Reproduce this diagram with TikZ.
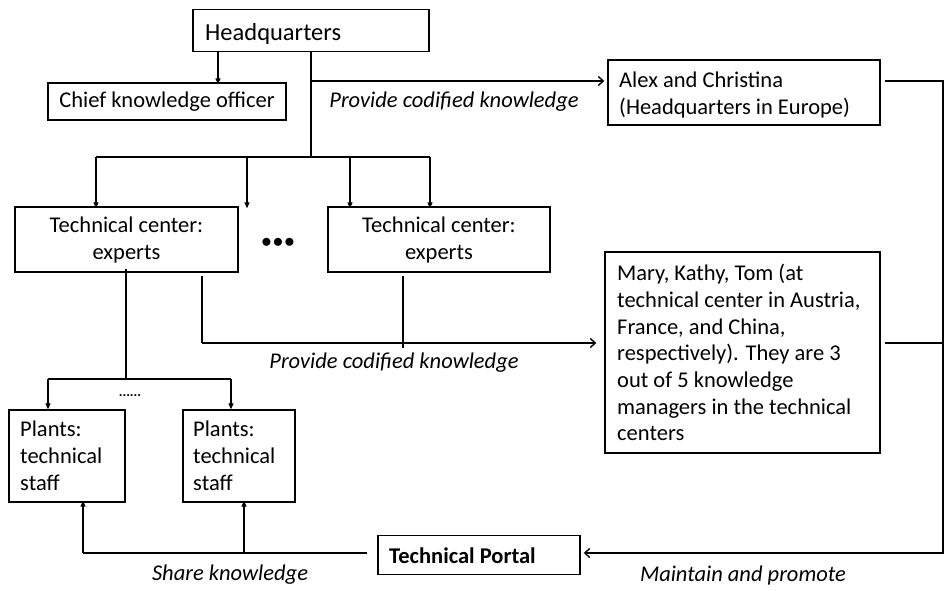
\documentclass[tikz,border=0pt]{standalone}
\usepackage{fontspec}
\setmainfont{Carlito}
\usetikzlibrary{arrows.meta,calc}
\begin{document}
\begin{tikzpicture}[x=1pt,y=-1pt,
  box/.style={draw, line width=1.4pt, rectangle, inner sep=0pt, font=\fontsize{22.5}{27}\selectfont},
  ctext/.style={box, align=center},
  txt/.style={inner sep=0pt, align=left, font=\fontsize{22.5}{26.7}\selectfont},
  lab/.style={font=\fontsize{22.5}{24}\selectfont\itshape, inner sep=0pt},
  ln/.style={line width=1.2pt},
  arr/.style={ln, -{Triangle[length=6pt,width=5pt]}},
  barb/.style={ln, -{Straight Barb[length=5pt,width=9pt,line width=1.4pt]}}
]
\useasboundingbox (0,0) rectangle (945,590);
\fill[white] (0,0) rectangle (945,590);

% boxes
\node[box, minimum width=236pt, minimum height=42pt] (HQ) at (311,30.5) {};
\node[anchor=base west, inner sep=0pt, font=\fontsize{24.5}{26}\selectfont] (HQt) at (205,40) {Headquarters};
\node[box, minimum width=238pt, minimum height=37pt] (CKO) at (167,101.5) {Chief knowledge officer};
\node[box, minimum width=272pt, minimum height=65pt] (AC) at (744,92.5) {};
\node[txt, anchor=north west] (ACt) at (619,72) {Alex and Christina\\(Headquarters in Europe)};
\node[ctext, minimum width=223pt, minimum height=65pt] (TC1) at (126.5,239.5) {Technical center:\\experts};
\node[ctext, minimum width=222pt, minimum height=65pt] (TC2) at (439,239.5) {Technical center:\\experts};
\node[font=\fontsize{20}{20}\selectfont\bfseries, inner sep=0pt] (dots) at (278,243) {$\bullet\!\bullet\!\bullet$};
\node[box, minimum width=275pt, minimum height=201pt] (MK) at (742.5,352.5) {};
\node[txt, anchor=north west] (MKt) at (617,264) {Mary, Kathy, Tom (at\\technical center in Austria,\\France, and China,\\respectively). They are 3\\out of 5 knowledge\\managers in the technical\\centers};
\node[box, minimum width=116pt, minimum height=92pt] (P1) at (67,456) {};
\node[txt, anchor=north west] (P1t) at (20,421) {Plants:\\technical\\staff};
\node[box, minimum width=112pt, minimum height=92pt] (P2) at (239,456) {};
\node[txt, anchor=north west] (P2t) at (193,421) {Plants:\\technical\\staff};
\node[box, minimum width=202pt, minimum height=39pt] (TP) at (479,555) {};
\node[anchor=west, inner sep=0pt, font=\fontsize{22.5}{24}\selectfont\bfseries] (TPt) at (389,556) {Technical Portal};
\node[font=\fontsize{14}{14}\selectfont\bfseries, inner sep=0pt] (pdots) at (130,396) {......};

% labels
\node[lab] (l1) at (454,102) {Provide codified knowledge};
\node[lab] (l2) at (394,363) {Provide codified knowledge};
\node[lab] (l3) at (230,575) {Share knowledge};
\node[lab] (l4) at (743,575) {Maintain and promote};

% coordinates
\coordinate (xa) at (218,0);
\coordinate (yb) at (0,81);
\coordinate (bus) at (311,157);
\coordinate (b1) at (96,157);
\coordinate (b2) at (247,157);
\coordinate (b3) at (350,157);
\coordinate (b4) at (430,157);
\coordinate (xr) at (943,0);
\coordinate (pb) at (126,379);
\coordinate (pl) at (48,379);
\coordinate (pr) at (231,379);
\coordinate (c1) at (202,276);
\coordinate (c2) at (403,276);
\coordinate (ym) at (0,343);
\coordinate (yp) at (0,553);
\coordinate (u1) at (83,553);
\coordinate (u2) at (244,553);

% connectors
\draw[arr] (HQ.south -| xa) -- ([yshift=-2pt]CKO.north -| xa);
\draw[ln] (HQ.south) -- (bus);
\draw[barb] (HQ.south |- yb) -- ([xshift=-3pt]AC.west |- yb);
\draw[ln] (b1) -- (b4);
\draw[arr] (b1) -- ([yshift=-2pt]TC1.north -| b1);
\draw[arr] (b2) -- ([yshift=-2pt]TC1.north -| b2);
\draw[arr] (b3) -- ([yshift=-2pt]TC2.north -| b3);
\draw[arr] (b4) -- ([yshift=-2pt]TC2.north -| b4);
\draw[ln] ([yshift=4pt]TC1.south -| pb) -- (pb);
\draw[ln] (pl) -- (pr);
\draw[arr] (pl) -- (P1.north -| pl);
\draw[arr] (pr) -- (P2.north -| pr);
\draw[ln] (c1) -- (c1 |- ym);
\draw[barb] (c1 |- ym) -- ([xshift=-8pt]MK.west |- ym);
\draw[ln] (c2) -- ([yshift=-5pt]c2 |- ym);
\draw[ln] ([xshift=4pt]MK.east |- ym) -- (xr |- ym);
\draw[barb] ([xshift=4pt]AC.east |- yb) -- (xr |- yb) -- (xr |- yp) -- ([xshift=3pt]TP.east |- yp);
\draw[ln] ([xshift=-10pt]TP.west |- yp) -- (u1);
\draw[arr] (u1) -- ([yshift=2pt]P1.south -| u1);
\draw[arr] (u2) -- ([yshift=2pt]P2.south -| u2);
\end{tikzpicture}
\end{document}
